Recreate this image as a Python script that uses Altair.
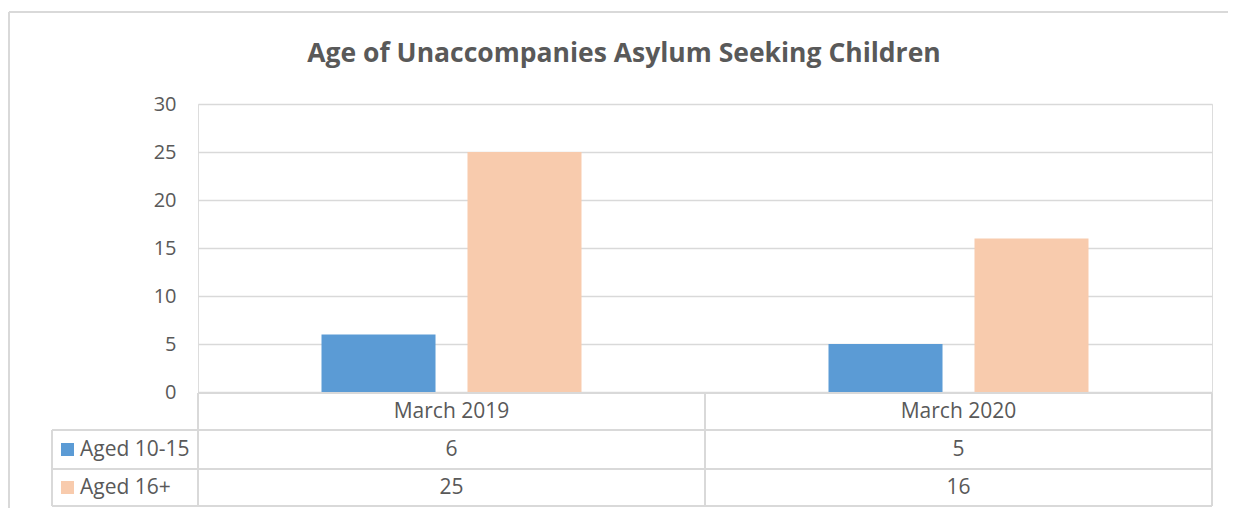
import altair as alt
import pandas as pd

categories = ["March 2019", "March 2020"]
series = ["Aged 10-15", "Aged 16+"]
aged_10_15 = [6, 5]
aged_16_plus = [25, 16]
y_ticks = [0, 5, 10, 15, 20, 25, 30]
colors = ["#5B9BD5", "#F8CBAD"]
title_text = "Age of Unaccompanies Asylum Seeking Children"

rows = []
for s, vals in zip(series, [aged_10_15, aged_16_plus]):
    for c, v in zip(categories, vals):
        rows.append({"cat": c, "series": s, "value": v})
df = pd.DataFrame(rows)
cat_df = pd.DataFrame({"cat": categories})
ser_df = pd.DataFrame({"series": series})

FONT = "Open Sans"
TXT = "#595959"
GRID = "#D9D9D9"
W, H = 1014, 288

xscale = alt.Scale(domain=categories, paddingInner=0, paddingOuter=0)
cscale = alt.Scale(domain=series, range=colors)

bars = alt.Chart(df).mark_bar().encode(
    x=alt.X("cat:N", scale=xscale, axis=None, sort=categories),
    xOffset=alt.XOffset("series:N", sort=series,
                        scale=alt.Scale(paddingInner=0.219, paddingOuter=0.846)),
    y=alt.Y("value:Q",
            scale=alt.Scale(domain=[0, 30], nice=False),
            axis=alt.Axis(values=y_ticks, grid=True, domain=False, ticks=False,
                          labelFontSize=20, labelFont=FONT, labelColor=TXT,
                          labelPadding=22, gridColor=GRID, gridWidth=1.5,
                          title=None)),
    color=alt.Color("series:N", scale=cscale, legend=None),
)

title = alt.Chart(cat_df.head(1)).mark_text(
    text=title_text, font=FONT, fontSize=26.5, fontWeight="bold", color=TXT,
    align="center", baseline="middle"
).encode(x=alt.value(426), y=alt.value(-50))

header = alt.Chart(cat_df).mark_text(
    font=FONT, fontSize=21, color=TXT, baseline="middle"
).encode(x=alt.X("cat:N", scale=xscale, sort=categories), y=alt.value(308), text="cat:N")

row1 = alt.Chart(df).transform_filter(alt.datum.series == series[0]).mark_text(
    font=FONT, fontSize=21, color=TXT, baseline="middle"
).encode(x=alt.X("cat:N", scale=xscale, sort=categories), y=alt.value(345.5), text="value:Q")

row2 = alt.Chart(df).transform_filter(alt.datum.series == series[1]).mark_text(
    font=FONT, fontSize=21, color=TXT, baseline="middle"
).encode(x=alt.X("cat:N", scale=xscale, sort=categories), y=alt.value(383.5), text="value:Q")

def legend_row(idx, yv):
    sdf = ser_df.iloc[[idx]]
    sw = alt.Chart(sdf).mark_square(size=169, opacity=1).encode(
        x=alt.value(-130.5), y=alt.value(yv),
        color=alt.Color("series:N", scale=cscale, legend=None))
    lb = alt.Chart(sdf).mark_text(
        font=FONT, fontSize=21, color=TXT, align="left", baseline="middle"
    ).encode(x=alt.value(-118), y=alt.value(yv), text="series:N")
    return sw + lb

def hline(y, x1, x2):
    return alt.Chart(cat_df.head(1)).mark_rule(color=GRID, strokeWidth=2).encode(
        x=alt.value(x1), x2=alt.value(x2), y=alt.value(y))

def vline(x, y1, y2):
    return alt.Chart(cat_df.head(1)).mark_rule(color=GRID, strokeWidth=2).encode(
        x=alt.value(x), y=alt.value(y1), y2=alt.value(y2))

lines = [
    hline(289, 0, W), hline(326, -146, W), hline(365, -146, W), hline(402, -146, W),
    vline(0, 289, 402), vline(507, 289, 402), vline(W, 289, 402), vline(-146, 326, 402),
    hline(-92, -189, 1040), vline(-189, -92, 410),
]

layers = [bars] + lines + [title, header, row1, row2, legend_row(0, 345.5), legend_row(1, 383.5)]

chart = alt.layer(*layers).properties(
    width=W, height=H,
    autosize=alt.AutoSizeParams(type="none"),
    padding={"left": 190, "top": 96, "right": 16, "bottom": 116},
).configure_view(stroke=None).configure(background="white")

chart.save("out.html", embed_options={"renderer": "svg", "actions": False})
